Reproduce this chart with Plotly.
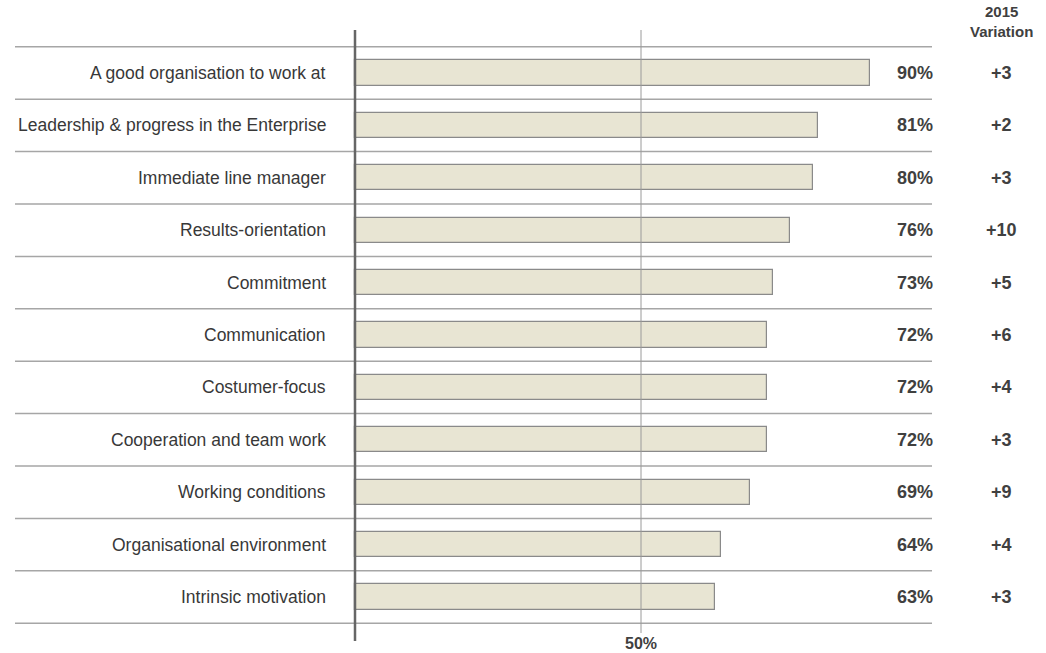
import plotly.graph_objects as go

categories = [
    "A good organisation to work at",
    "Leadership & progress in the Enterprise",
    "Immediate line manager",
    "Results-orientation",
    "Commitment",
    "Communication",
    "Costumer-focus",
    "Cooperation and team work",
    "Working conditions",
    "Organisational environment",
    "Intrinsic motivation",
]
scores = [90, 81, 80, 76, 73, 72, 72, 72, 69, 64, 63]
variation = ["+3", "+2", "+3", "+10", "+5", "+6", "+4", "+3", "+9", "+4", "+3"]
ref_value = 50

W, H = 1046, 653
PX_PER_PCT = 5.72
ZERO_PX = 355
ROW0_PX = 73
ROW_PX = 52.4

def xv(px):
    return (px - ZERO_PX) / PX_PER_PCT

def yv(py):
    return (py - ROW0_PX) / ROW_PX

n = len(categories)
ypos = list(range(n))
FONT = "Liberation Sans, Arial, sans-serif"

fig = go.Figure()
fig.add_trace(go.Bar(
    x=scores, y=ypos, orientation="h", width=0.48,
    marker=dict(color="#E8E5D3", line=dict(color="#8a8a8a", width=1.2)),
    hoverinfo="skip",
))

shapes = []
# row separators
for i in range(n + 1):
    shapes.append(dict(type="line", xref="x", yref="y",
                       x0=xv(15), x1=xv(932), y0=i - 0.5, y1=i - 0.5,
                       line=dict(color="#a6a6a6", width=1.5), layer="below"))
# 50% gridline
shapes.append(dict(type="line", xref="x", yref="y", x0=ref_value, x1=ref_value,
                   y0=yv(30), y1=yv(633), line=dict(color="#9a9a9a", width=1), layer="above"))
# main axis line
shapes.append(dict(type="line", xref="x", yref="y", x0=0, x1=0,
                   y0=yv(30), y1=yv(641), line=dict(color="#666666", width=2.5), layer="above"))

annotations = []
for i, (c, s, v) in enumerate(zip(categories, scores, variation)):
    annotations.append(dict(x=xv(328), y=i, text=c, xanchor="right", yanchor="middle",
                            showarrow=False, font=dict(family=FONT, size=17.5, color="#383838")))
    annotations.append(dict(x=xv(915), y=i, text=f"<b>{s}%</b>", xanchor="center", yanchor="middle",
                            showarrow=False, font=dict(family=FONT, size=18, color="#404040")))
    annotations.append(dict(x=xv(1001), y=i, text=f"<b>{v}</b>", xanchor="center", yanchor="middle",
                            showarrow=False, font=dict(family=FONT, size=18, color="#404040")))

annotations.append(dict(x=xv(1001), y=yv(21), text="<b>2015<br>Variation</b>", xanchor="center",
                        yanchor="middle", showarrow=False,
                        font=dict(family=FONT, size=15, color="#404040")))
annotations.append(dict(x=ref_value, y=yv(643), text=f"<b>{ref_value}%</b>", xanchor="center",
                        yanchor="middle", showarrow=False,
                        font=dict(family=FONT, size=16, color="#404040")))

fig.update_layout(
    width=W, height=H,
    margin=dict(l=0, r=0, t=0, b=0),
    paper_bgcolor="white", plot_bgcolor="white",
    showlegend=False,
    xaxis=dict(range=[xv(0), xv(W)], visible=False, fixedrange=True),
    yaxis=dict(range=[yv(H), yv(0)], visible=False, fixedrange=True),
    shapes=shapes, annotations=annotations,
    bargap=0,
)

fig.write_html("out.html")
